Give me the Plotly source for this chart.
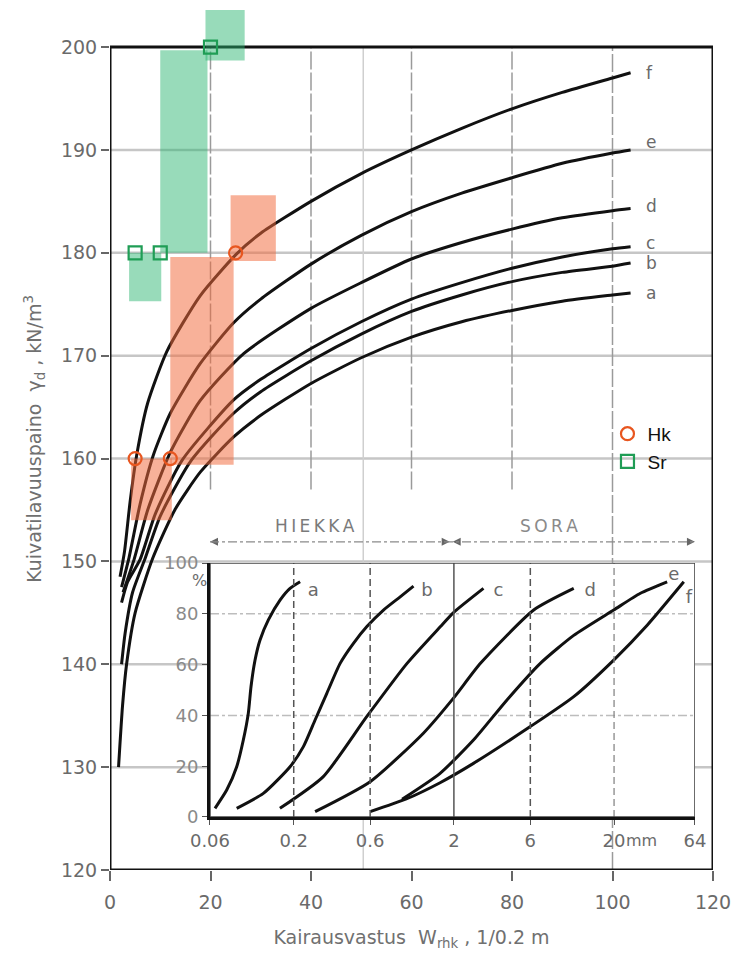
import numpy as np
import plotly.graph_objects as go

# ---------------- data: main chart (Kairausvastus vs kuivatilavuuspaino) ----------------
curve_labels = ["a", "b", "c", "d", "e", "f"]

a_x = [1.7, 2.5, 3.3, 5.0, 8.5, 13.0, 18.0, 24.6, 30.0, 40.0, 50.0, 60.0, 70.0, 80.0, 90.0, 100.0, 103.6]
a_y = [130.0, 136.0, 140.0, 145.0, 150.3, 155.1, 158.7, 162.1, 164.2, 167.3, 169.8, 171.8, 173.3, 174.4, 175.3, 175.9, 176.1]

b_x = [2.3, 3.0, 4.5, 7.0, 10.0, 16.0, 24.6, 30.0, 40.0, 50.0, 60.0, 70.0, 80.0, 90.0, 100.0, 103.6]
b_y = [140.0, 143.0, 147.0, 150.3, 154.4, 159.7, 164.4, 166.5, 169.5, 172.1, 174.3, 175.9, 177.2, 178.1, 178.7, 179.0]

c_x = [2.3, 3.5, 6.0, 9.0, 14.3, 24.6, 30.0, 40.0, 50.0, 60.0, 70.0, 80.0, 90.0, 100.0, 103.6]
c_y = [146.0, 148.0, 150.2, 154.6, 159.8, 165.7, 167.7, 170.7, 173.3, 175.5, 177.1, 178.5, 179.6, 180.4, 180.6]

d_x = [2.6, 4.8, 7.5, 12.0, 17.9, 26.6, 40.0, 50.0, 60.0, 70.0, 80.0, 90.0, 100.0, 103.6]
d_y = [147.0, 150.2, 155.0, 160.6, 165.6, 170.2, 174.6, 177.1, 179.4, 181.0, 182.3, 183.4, 184.1, 184.3]

e_x = [2.3, 3.8, 6.0, 8.6, 12.0, 17.9, 24.6, 30.0, 40.0, 50.0, 60.0, 70.0, 80.0, 90.0, 100.0, 103.6]
e_y = [147.5, 150.4, 155.6, 160.3, 164.4, 169.2, 173.2, 175.5, 178.9, 181.7, 184.0, 185.8, 187.3, 188.7, 189.7, 190.0]

f_x = [2.0, 2.9, 4.0, 5.3, 7.5, 11.3, 17.9, 25.2, 30.0, 40.0, 50.0, 60.0, 70.0, 80.0, 90.0, 100.0, 103.6]
f_y = [148.5, 151.0, 155.8, 160.3, 165.4, 170.4, 175.8, 179.9, 181.9, 185.0, 187.7, 190.0, 192.1, 194.0, 195.6, 197.0, 197.5]

main_curves_x = [a_x, b_x, c_x, d_x, e_x, f_x]
main_curves_y = [a_y, b_y, c_y, d_y, e_y, f_y]
main_label_dy = [0.0, 0.0, 0.4, 0.3, 0.8, 0.0]

# observation ranges (shaded boxes) and points
sr_box_x0 = [3.8, 10.0, 19.0]
sr_box_x1 = [10.2, 19.4, 26.8]
sr_box_y0 = [175.3, 180.0, 198.7]
sr_box_y1 = [180.0, 199.7, 203.6]

hk_box_x0 = [12.0, 24.0, 4.2]
hk_box_x1 = [24.6, 33.0, 12.3]
hk_box_y0 = [159.4, 179.2, 154.0]
hk_box_y1 = [179.6, 185.6, 160.0]

hk_x = [5, 12, 25]
hk_y = [160, 160, 180]
sr_x = [5, 10, 20]
sr_y = [180, 180, 200]

x_ticks = [0, 20, 40, 60, 80, 100, 120]
y_ticks = [120, 130, 140, 150, 160, 170, 180, 190, 200]
y_gridlines = [130, 140, 150, 160, 170, 180, 190]
x_gridlines = [20, 40, 60, 80]

# ---------------- data: inset (grain size distributions) ----------------
ia_x = [0.0645, 0.0763, 0.0881, 0.0969, 0.1041, 0.1082, 0.1147, 0.1232, 0.1389, 0.1643, 0.1897, 0.2192]
ia_y = [3.4, 10.6, 19.8, 30.3, 40.8, 51.3, 61.8, 69.7, 77.6, 85.4, 90.0, 92.6]
ib_x = [0.0881, 0.1292, 0.1897, 0.2298, 0.2719, 0.3219, 0.3897, 0.4720, 0.5725, 0.7267, 0.924, 1.119]
ib_y = [3.4, 9.3, 19.8, 27.7, 38.2, 48.7, 60.5, 68.4, 75.0, 81.5, 86.7, 90.9]
ic_x = [0.164, 0.306, 0.571, 1.02, 1.643, 1.99, 3.06]
ic_y = [3.4, 15.9, 39.5, 60.5, 74.9, 80.5, 90.0]
id_x = [0.272, 0.60, 1.29, 2.0, 2.93, 6.30, 11.2]
id_y = [2.1, 13.9, 33.0, 47.0, 60.5, 81.5, 90.0]
ie_x = [0.95, 1.64, 2.65, 4.29, 6.93, 11.2, 19.9, 29.2, 42.9]
ie_y = [7.0, 17.2, 30.3, 46.1, 60.5, 71.5, 81.5, 88.1, 92.6]
if_x = [0.60, 1.0, 1.64, 2.65, 6.0, 11.2, 19.9, 32.2, 54.5]
if_y = [2.1, 7.0, 13.5, 21.1, 35.6, 47.4, 61.8, 75.5, 92.6]

inset_curves_x = [ia_x, ib_x, ic_x, id_x, ie_x, if_x]
inset_curves_y = [ia_y, ib_y, ic_y, id_y, ie_y, if_y]
inset_label_x = [0.265, 1.36, 3.80, 14.2, 47.2, 58.6]
inset_label_y = [88.7, 88.7, 88.7, 88.7, 94.9, 86.1]

inset_xticks = [0.06, 0.2, 0.6, 2, 6, 20, 64]
inset_xticktext = ["0.06", "0.2", "0.6", "2", "6", "20", "64"]
inset_yticks = [0, 20, 40, 60, 80, 100]
inset_dashed_v = [0.2, 0.6, 6]
inset_solid_v = [2]
inset_light_v = [20]
inset_dashed_h = [40, 80]

sand_range = [19.9, 68.2]    # HIEKKA arrow span (main x units)
gravel_range = [68.2, 116.4]  # SORA arrow span
arrow_level = 151.9

# ---------------- styles ----------------
FONT = "DejaVu Sans"
TXT = "#6a6a6a"
HK_COL = "#e8561f"
SR_COL = "#1f9d55"
HK_FILL = "rgba(242,106,60,0.52)"
SR_FILL = "rgba(40,180,110,0.48)"
SMOOTH = 0.6

fig = go.Figure()

# main curves
for xs, ys in zip(main_curves_x, main_curves_y):
    fig.add_trace(go.Scatter(x=xs, y=ys, mode="lines",
                             line=dict(color="#111", width=3, shape="spline", smoothing=SMOOTH),
                             showlegend=False, hoverinfo="skip", xaxis="x", yaxis="y"))

# shaded boxes
for x0, x1, y0, y1 in zip(sr_box_x0, sr_box_x1, sr_box_y0, sr_box_y1):
    fig.add_trace(go.Scatter(x=[x0, x1, x1, x0, x0], y=[y0, y0, y1, y1, y0], mode="lines", fill="toself",
                             fillcolor=SR_FILL, line=dict(width=0), showlegend=False, hoverinfo="skip"))
for x0, x1, y0, y1 in zip(hk_box_x0, hk_box_x1, hk_box_y0, hk_box_y1):
    fig.add_trace(go.Scatter(x=[x0, x1, x1, x0, x0], y=[y0, y0, y1, y1, y0], mode="lines", fill="toself",
                             fillcolor=HK_FILL, line=dict(width=0), showlegend=False, hoverinfo="skip"))

# markers
fig.add_trace(go.Scatter(x=hk_x, y=hk_y, mode="markers", name="Hk",
                         marker=dict(symbol="circle-open", size=13, color=HK_COL, line=dict(width=2.2))))
fig.add_trace(go.Scatter(x=sr_x, y=sr_y, mode="markers", name="Sr",
                         marker=dict(symbol="square-open", size=13, color=SR_COL, line=dict(width=2.2))))

# HIEKKA / SORA arrow heads
fig.add_trace(go.Scatter(x=[sand_range[0], gravel_range[0]], y=[arrow_level, arrow_level], mode="markers",
                         marker=dict(symbol="arrow-left", size=8, color="#666"), showlegend=False,
                         hoverinfo="skip", cliponaxis=False))
fig.add_trace(go.Scatter(x=[sand_range[1] - 0.6, gravel_range[1]], y=[arrow_level, arrow_level], mode="markers",
                         marker=dict(symbol="arrow-right", size=8, color="#666"), showlegend=False,
                         hoverinfo="skip", cliponaxis=False))

# inset curves
for xs, ys in zip(inset_curves_x, inset_curves_y):
    fig.add_trace(go.Scatter(x=xs, y=ys, mode="lines",
                             line=dict(color="#111", width=3, shape="spline", smoothing=SMOOTH),
                             showlegend=False, hoverinfo="skip", xaxis="x2", yaxis="y2"))
fig.add_trace(go.Scatter(x=inset_label_x, y=inset_label_y, mode="text", text=curve_labels,
                         textfont=dict(family=FONT, size=18, color=TXT), showlegend=False, hoverinfo="skip",
                         xaxis="x2", yaxis="y2", cliponaxis=False))

shapes = []
# horizontal grid (main)
for gy in y_gridlines:
    shapes.append(dict(type="line", xref="x", yref="y", x0=0, x1=120, y0=gy, y1=gy,
                       line=dict(color="#c6c6c6", width=2.5), layer="below"))
# vertical grid (main), stops above the inset
for gx in x_gridlines:
    shapes.append(dict(type="line", xref="x", yref="y", x0=gx, x1=gx, y0=157, y1=200,
                       line=dict(color="#9a9a9a", width=1.5, dash="18px,3px"), layer="below"))
shapes.append(dict(type="line", xref="x", yref="y", x0=100, x1=100, y0=120, y1=200,
                   line=dict(color="#9a9a9a", width=1.5, dash="18px,3px"), layer="below"))
shapes.append(dict(type="line", xref="x", yref="y", x0=50.4, x1=50.4, y0=120, y1=200,
                   line=dict(color="#cfcfcf", width=1.5), layer="below"))
# main frame
shapes.append(dict(type="rect", xref="x", yref="y", x0=0, x1=120, y0=120, y1=200,
                   line=dict(color="#111", width=3), layer="below"))
# inset grid
for gx in inset_dashed_v:
    shapes.append(dict(type="line", xref="x2", yref="y2", x0=gx, x1=gx, y0=0, y1=100,
                       line=dict(color="#555", width=1.5, dash="7px,4px")))
for gx in inset_solid_v:
    shapes.append(dict(type="line", xref="x2", yref="y2", x0=gx, x1=gx, y0=0, y1=100,
                       line=dict(color="#555", width=1.5)))
for gx in inset_light_v:
    shapes.append(dict(type="line", xref="x2", yref="y2", x0=gx, x1=gx, y0=0, y1=100,
                       line=dict(color="#888", width=1.3, dash="7px,4px")))
for gy in inset_dashed_h:
    shapes.append(dict(type="line", xref="x2", yref="y2", x0=0.06, x1=64, y0=gy, y1=gy,
                       line=dict(color="#bdbdbd", width=1.5, dash="dashdot"), layer="below"))
shapes.append(dict(type="rect", xref="x2", yref="y2", x0=0.06, x1=64, y0=0, y1=100,
                   line=dict(color="#444", width=1.5)))
# HIEKKA / SORA arrow line
shapes.append(dict(type="line", xref="x", yref="y", x0=sand_range[0], x1=gravel_range[1], y0=arrow_level, y1=arrow_level,
                   line=dict(color="#8a8a8a", width=1.3, dash="dashdot")))

annotations = []
# curve labels (main)
for lab, xs, ys, dy in zip(curve_labels, main_curves_x, main_curves_y, main_label_dy):
    annotations.append(dict(x=xs[-1] + 2.6, y=ys[-1] + dy, xref="x", yref="y", text=lab, showarrow=False,
                            xanchor="left", font=dict(family=FONT, size=17, color=TXT)))
annotations.append(dict(x=(sand_range[0] + sand_range[1]) / 2 - 3.3, y=arrow_level + 1.5, xref="x", yref="y",
                        text="H\u2009I\u2009E\u2009K\u2009K\u2009A", showarrow=False,
                        font=dict(family=FONT, size=17, color="#7a7a7a")))
annotations.append(dict(x=(gravel_range[0] + gravel_range[1]) / 2 - 5, y=arrow_level + 1.5, xref="x", yref="y",
                        text="S\u2009O\u2009R\u2009A", showarrow=False,
                        font=dict(family=FONT, size=17, color="#8a8a8a")))
annotations.append(dict(x=0.1327, y=0.3230, xref="paper", yref="paper", text="%", showarrow=False,
                        font=dict(family=FONT, size=16, color=TXT)))
annotations.append(dict(x=0.8524, y=0.0348, xref="paper", yref="paper", text="mm", showarrow=False,
                        xanchor="left", yanchor="middle", font=dict(family=FONT, size=16, color=TXT)))

fig.update_layout(
    width=747, height=956,
    margin=dict(l=102, r=42, t=0, b=94, autoexpand=False),
    paper_bgcolor="white", plot_bgcolor="white",
    showlegend=True,
    legend=dict(x=0.825, y=0.528, xanchor="left", yanchor="top", bgcolor="rgba(0,0,0,0)",
                font=dict(family="Liberation Sans", size=19, color="#111"), itemwidth=30, tracegroupgap=0),
    xaxis=dict(range=[0, 120], tickvals=x_ticks, ticktext=[str(v) for v in x_ticks], showgrid=False, zeroline=False,
               automargin=False, ticks="outside", ticklen=10, tickwidth=1.5, tickcolor="#666",
               ticklabelstandoff=5,
               tickfont=dict(family=FONT, size=19, color=TXT),
               title=dict(text="Kairausvastus  W<sub>rhk</sub> , 1/0.2 m", standoff=18,
                          font=dict(family=FONT, size=19, color="#707070"))),
    yaxis=dict(range=[120, 203.8], tickvals=y_ticks, ticktext=[str(v) for v in y_ticks], showgrid=False,
               zeroline=False, automargin=False, ticks="outside", ticklen=8, tickwidth=1.5, tickcolor="#666",
               tickfont=dict(family=FONT, size=19, color=TXT),
               title=dict(text="Kuivatilavuuspaino  γ<sub>d</sub> , kN/m<sup>3</sup>", standoff=14,
                          font=dict(family=FONT, size=19, color="#707070"))),
    xaxis2=dict(type="log", range=[np.log10(0.06), np.log10(64)], domain=[0.1658, 0.9701], anchor="y2",
                automargin=False, tickvals=inset_xticks, ticktext=inset_xticktext, showgrid=False, zeroline=False,
                showline=True, linecolor="#111", linewidth=3, ticks="outside", ticklen=5, tickcolor="#555",
                tickfont=dict(family=FONT, size=18, color=TXT)),
    yaxis2=dict(range=[0, 100], domain=[0.0615, 0.3561], anchor="x2", tickvals=inset_yticks, automargin=False,
                showgrid=False, zeroline=False, showline=True, linecolor="#111", linewidth=3,
                ticks="outside", ticklen=5, tickcolor="#555",
                tickfont=dict(family=FONT, size=18, color="#8a8a8a")),
    shapes=shapes,
    annotations=annotations,
)

fig.write_html("out.html")
